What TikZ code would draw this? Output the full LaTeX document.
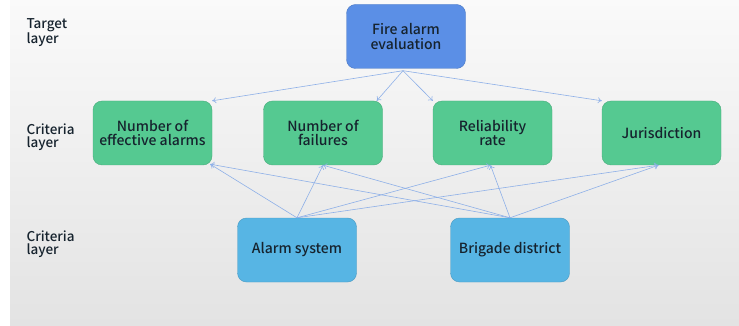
\documentclass[tikz,border=0pt]{standalone}
\usepackage{fontspec}
\setmainfont{Noto Sans CJK SC Medium}
\usetikzlibrary{calc,arrows.meta}
\definecolor{topblue}{HTML}{5B8FE6}
\definecolor{critgreen}{HTML}{55C991}
\definecolor{subblue}{HTML}{57B5E4}
\definecolor{linkblue}{HTML}{8EB0E8}
\definecolor{inktext}{HTML}{16232E}
\tikzset{
	box/.style={rounded corners=9pt, minimum width=119pt, minimum height=64pt, align=center, text=inktext, font=\fontsize{14}{14.5}\selectfont, draw=#1!85!black, line width=0.4pt, fill=#1},
	layer/.style={anchor=west, align=left, text=inktext, font=\fontsize{13.5}{13}\selectfont},
	link/.style={draw=linkblue, line width=0.6pt, -{To[length=4pt,width=6pt]}}
}

\begin{document}
\begin{tikzpicture}[x=1pt, y=-1pt]
			%%%%% START %%%%%
			
			\useasboundingbox (0, 0) rectangle (739, 326);
			\shade[top color=black!2, bottom color=black!11] (10, 0) rectangle (739, 326);
			
			\node[layer] (target) at (23, 33) {Target\\layer};
			\node[layer] (crit1) at (23, 137) {Criteria\\layer};
			\node[layer] (crit2) at (23, 244) {Criteria\\layer};
			
			\node[box=topblue] (eval) at (406, 36.5) {Fire alarm\\evaluation};
			
			\node[box=critgreen] (eff) at (152.5, 133) {Number of\\effective alarms};
			\node[box=critgreen] (fail) at (323, 133) {Number of\\failures};
			\node[box=critgreen] (rel) at (492.5, 133) {Reliability\\rate};
			\node[box=critgreen] (jur) at (661.5, 133) {Jurisdiction};
			
			\node[box=subblue] (alarm) at (297, 250) {Alarm system};
			\node[box=subblue] (brig) at (510, 250) {Brigade district};
			
			\coordinate (evalfoot) at ($(eval.south)+(-3, 2)$);
			\draw[link] (evalfoot) -- (eff.north east);
			\draw[link] (evalfoot) -- ($(fail.north east)+(-6, 0)$);
			\draw[link] (evalfoot) -- (rel.north west);
			\draw[link] (evalfoot) -- (jur.north west);
			
			\foreach \src in {alarm, brig} {
				\draw[link] (\src.north) -- ($(eff.south east)+(-2, -1)$);
				\draw[link] (\src.north) -- (fail.south);
				\draw[link] (\src.north) -- ($(rel.south)+(-2, 0)$);
				\draw[link] (\src.north) -- ($(jur.south)+(-3, 0)$);
			}
			
			%%%%% END %%%%%
		\end{tikzpicture}
\end{document}
